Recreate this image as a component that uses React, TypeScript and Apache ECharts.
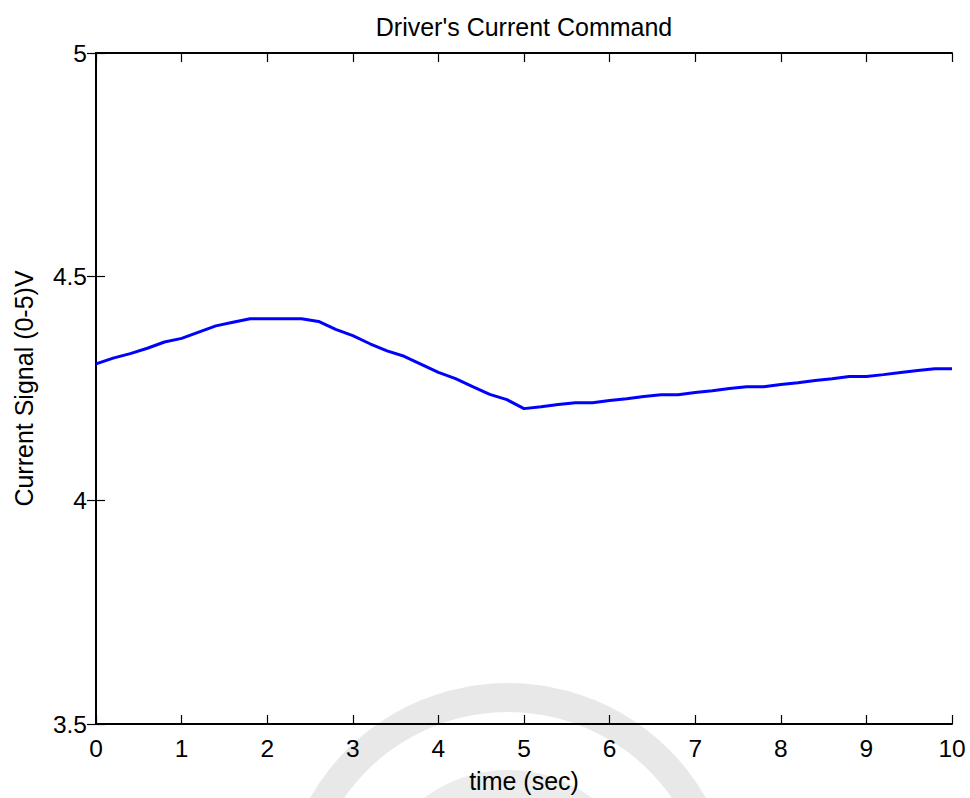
import React, { useEffect, useRef } from "react";
import * as echarts from "echarts";

const timeSec = [
  0, 0.2, 0.4, 0.6, 0.8, 1.0, 1.2, 1.4, 1.6, 1.8, 2.0, 2.2, 2.4, 2.6, 2.8, 3.0,
  3.2, 3.4, 3.6, 3.8, 4.0, 4.2, 4.4, 4.6, 4.8, 5.0, 5.2, 5.4, 5.6, 5.8, 6.0,
  6.2, 6.4, 6.6, 6.8, 7.0, 7.2, 7.4, 7.6, 7.8, 8.0, 8.2, 8.4, 8.6, 8.8, 9.0,
  9.2, 9.4, 9.6, 9.8, 10.0,
];

const currentSignal = [
  4.305, 4.318, 4.328, 4.34, 4.354, 4.362, 4.376, 4.39, 4.398, 4.406, 4.406,
  4.406, 4.406, 4.4, 4.382, 4.368, 4.35, 4.334, 4.322, 4.304, 4.286, 4.272,
  4.254, 4.237, 4.225, 4.205, 4.209, 4.214, 4.218, 4.218, 4.223, 4.227, 4.232,
  4.236, 4.236, 4.241, 4.245, 4.25, 4.254, 4.254, 4.259, 4.263, 4.268, 4.272,
  4.277, 4.277, 4.281, 4.286, 4.29, 4.294, 4.294,
];

const titleText = "Driver's Current Command";
const xName = "time (sec)";
const yName = "Current Signal (0-5)V";

const FONT = "'Liberation Sans', Arial, Helvetica, sans-serif";

export default function App() {
  const ref = useRef<HTMLDivElement>(null);

  useEffect(() => {
    if (!ref.current) return;
    const chart = echarts.init(ref.current, undefined, { renderer: "svg" });

    const axisCommon = {
      type: "value" as const,
      axisLine: { show: true, lineStyle: { color: "#000", width: 2 } },
      axisTick: { show: true, inside: true, length: 9, lineStyle: { color: "#000", width: 1.2 } },
      splitLine: { show: false },
    };

    chart.setOption({
      animation: false,
      backgroundColor: "#fff",
      textStyle: { fontFamily: FONT },
      grid: { left: 96, right: 18, top: 53, bottom: 71, containLabel: false },
      graphic: [
        {
          type: "circle",
          silent: true,
          z: -10,
          shape: { cx: 508, cy: 911, r: 228 },
          style: { fill: "#e8e8e8" },
        },
        {
          type: "circle",
          silent: true,
          z: -9,
          shape: { cx: 508, cy: 911, r: 199 },
          style: { fill: "#ffffff" },
        },
        {
          type: "circle",
          silent: true,
          z: -8,
          shape: { cx: 508, cy: 911, r: 141 },
          style: { fill: "#ececec" },
        },
        {
          type: "text",
          x: 524,
          y: 27,
          style: {
            text: titleText,
            fontFamily: FONT,
            fontSize: 25,
            fill: "#000",
            textAlign: "center",
            textVerticalAlign: "middle",
          },
        },
      ],
      xAxis: [
        {
          ...axisCommon,
          position: "bottom",
          min: 0,
          max: 10,
          interval: 1,
          name: xName,
          nameLocation: "middle",
          nameGap: 44,
          nameTextStyle: { fontFamily: FONT, fontSize: 25, color: "#000" },
          axisLabel: { show: true, margin: 12, fontFamily: FONT, fontSize: 24.5, color: "#000" },
        },
        {
          ...axisCommon,
          position: "top",
          min: 0,
          max: 10,
          interval: 1,
          axisLabel: { show: false },
        },
      ],
      yAxis: [
        {
          ...axisCommon,
          position: "left",
          min: 3.5,
          max: 5,
          interval: 0.5,
          name: yName,
          nameLocation: "middle",
          nameGap: 60,
          nameTextStyle: { fontFamily: FONT, fontSize: 25, color: "#000" },
          axisLabel: {
            show: true,
            margin: 9,
            fontFamily: FONT,
            fontSize: 24.5,
            color: "#000",
            formatter: (v: number) => String(v),
          },
        },
        {
          ...axisCommon,
          position: "right",
          min: 3.5,
          max: 5,
          interval: 0.5,
          axisLabel: { show: false },
        },
      ],
      series: [
        {
          type: "line",
          xAxisIndex: 0,
          yAxisIndex: 0,
          data: timeSec.map((t, i) => [t, currentSignal[i]]),
          showSymbol: false,
          symbol: "none",
          lineStyle: { color: "#0000ff", width: 3 },
          itemStyle: { color: "#0000ff" },
          z: 5,
        },
      ],
    });

    return () => chart.dispose();
  }, []);

  return (
    <div
      ref={ref}
      style={{ position: "fixed", left: 0, top: 0, width: 970, height: 798, background: "#fff" }}
    />
  );
}
